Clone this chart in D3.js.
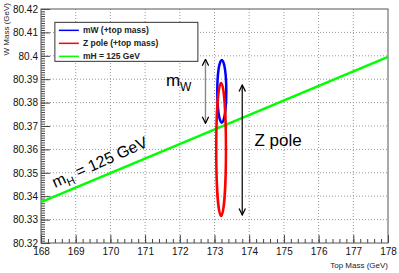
<!DOCTYPE html>
<html>
<head>
<meta charset="utf-8">
<script src="https://cdn.jsdelivr.net/npm/d3@7"></script>
<style>
  body { margin: 0; background: #fff; }
  svg { display: block; font-family: "Liberation Sans", Arial, sans-serif; }
</style>
</head>
<body>
<div class="board"></div>
<script>
var W = 399, H = 273
var margin = { top: 9, right: 11, bottom: 30, left: 41 }
var width = W - margin.left - margin.right,
    height = H - margin.top - margin.bottom

// data
var X_DOMAIN = [168, 178]
var Y_DOMAIN = [80.32, 80.42]
var X_TICKS = [168, 169, 170, 171, 172, 173, 174, 175, 176, 177, 178]
var Y_TICKS = [80.32, 80.33, 80.34, 80.35, 80.36, 80.37, 80.38, 80.39, 80.40, 80.41, 80.42]

// mH = 125 GeV line: top mass -> W mass
var higgsTop = [168, 178]
var higgsW = [80.3375, 80.3995]

// contours (center, half-widths) in top mass / W mass
var ellipseNames = ["mW (+top mass)", "Z pole (+top mass)"]
var ellipseTop = [173.21, 173.19]
var ellipseW = [80.3848, 80.3600]
var ellipseDTop = [0.13, 0.14]
var ellipseDW = [0.0134, 0.0284]
var ellipseColors = ["#0000ff", "#ff0000"]

var legendNames = ["mW (+top mass)", "Z pole (+top mass)", "mH = 125 GeV"]
var legendColors = ["#0000ff", "#ff0000", "#00ff00"]

// arrows: x (top mass), y from / to (W mass)
var arrowTop = [172.74, 173.8]
var arrowFrom = [80.3985, 80.3875]
var arrowTo = [80.3712, 80.3320]
var arrowColors = ["#888", "#222"]

var svg = d3.select(".board")
    .append("svg")
    .attr("width", W)
    .attr("height", H)

var defs = svg.append("defs")
defs.append("marker")
    .attr("id", "head")
    .attr("viewBox", "0 0 10 10")
    .attr("refX", 9)
    .attr("refY", 5)
    .attr("markerUnits", "userSpaceOnUse")
    .attr("markerWidth", 8)
    .attr("markerHeight", 8)
    .attr("orient", "auto-start-reverse")
    .append("path")
    .attr("d", "M1,1 L9,5 L1,9")
    .attr("fill", "none")
    .attr("stroke", "#000")
    .attr("stroke-width", 1.6)

var g = svg.append("g")
    .attr("transform", `translate(${margin.left},${margin.top})`)

var x = d3.scaleLinear().domain(X_DOMAIN).range([0, width])
var y = d3.scaleLinear().domain(Y_DOMAIN).range([height, 0])

// grid
g.selectAll(".gx")
    .data(X_TICKS.slice(1, -1))
    .enter()
    .append("line")
    .attr("x1", d => x(d)).attr("x2", d => x(d))
    .attr("y1", 0).attr("y2", height)
    .attr("stroke", "#999")
    .attr("stroke-dasharray", "1,2")

g.selectAll(".gy")
    .data(Y_TICKS.slice(1, -1))
    .enter()
    .append("line")
    .attr("x1", 0).attr("x2", width)
    .attr("y1", d => y(d)).attr("y2", d => y(d))
    .attr("stroke", "#999")
    .attr("stroke-dasharray", "1,2")

// minor ticks
var xMinor = d3.range(X_DOMAIN[0] * 5, X_DOMAIN[1] * 5 + 1).map(d => d / 5)
var yMinor = d3.range(Math.round(Y_DOMAIN[0] * 1000), Math.round(Y_DOMAIN[1] * 1000) + 1).map(d => d / 1000)

g.append("g")
    .attr("transform", `translate(0,${height})`)
    .call(d3.axisTop(x).tickValues(xMinor).tickSize(4).tickFormat(""))
    .call(a => a.select(".domain").remove())
    .call(a => a.selectAll("line").attr("stroke", "#444"))

g.append("g")
    .call(d3.axisRight(y).tickValues(yMinor).tickSize(4).tickFormat(""))
    .call(a => a.select(".domain").remove())
    .call(a => a.selectAll("line").attr("stroke", "#444"))

// major ticks + labels
g.append("g")
    .attr("transform", `translate(0,${height})`)
    .call(d3.axisBottom(x).tickValues(X_TICKS).tickSize(-8).tickPadding(5).tickFormat(d3.format("d")))
    .call(a => a.select(".domain").remove())
    .call(a => a.selectAll("line").attr("stroke", "#444"))
    .call(a => a.selectAll("text").attr("font-size", 10).attr("fill", "#111"))

g.append("g")
    .call(d3.axisLeft(y).tickValues(Y_TICKS).tickSize(-9).tickPadding(3).tickFormat(d => String(+d.toFixed(2))))
    .call(a => a.select(".domain").remove())
    .call(a => a.selectAll("line").attr("stroke", "#444"))
    .call(a => a.selectAll("text").attr("font-size", 10).attr("fill", "#111"))

// frame
g.append("rect")
    .attr("width", width)
    .attr("height", height)
    .attr("fill", "none")
    .attr("stroke", "#555")

// higgs line
g.append("line")
    .attr("x1", x(higgsTop[0])).attr("y1", y(higgsW[0]))
    .attr("x2", x(higgsTop[1])).attr("y2", y(higgsW[1]))
    .attr("stroke", "#00ff00")
    .attr("stroke-width", 2.5)

// ellipses
g.selectAll(".ell")
    .data(d3.range(ellipseNames.length))
    .enter()
    .append("ellipse")
    .attr("cx", i => x(ellipseTop[i]))
    .attr("cy", i => y(ellipseW[i]))
    .attr("rx", i => x(ellipseTop[i] + ellipseDTop[i]) - x(ellipseTop[i]))
    .attr("ry", i => y(ellipseW[i]) - y(ellipseW[i] + ellipseDW[i]))
    .attr("fill", "none")
    .attr("stroke", i => ellipseColors[i])
    .attr("stroke-width", 2.5)

// arrows
g.selectAll(".arrow")
    .data(d3.range(arrowTop.length))
    .enter()
    .append("line")
    .attr("x1", i => x(arrowTop[i])).attr("x2", i => x(arrowTop[i]))
    .attr("y1", i => y(arrowFrom[i])).attr("y2", i => y(arrowTo[i]))
    .attr("stroke", i => arrowColors[i])
    .attr("stroke-width", 1.4)
    .attr("marker-start", "url(#head)")
    .attr("marker-end", "url(#head)")

// annotations
var mw = g.append("text")
    .attr("x", x(171.6))
    .attr("y", y(80.3870))
    .attr("font-size", 17)
mw.append("tspan").text("m")
mw.append("tspan").attr("dy", 5).attr("font-size", 12).text("W")

g.append("text")
    .attr("x", x(174.15))
    .attr("y", y(80.3615))
    .attr("font-size", 17)
    .text("Z pole")

var mh = g.append("text")
    .attr("transform", `translate(${x(168.4)},${y(80.3435)}) rotate(-24)`)
    .attr("font-size", 16)
mh.append("tspan").text("m")
mh.append("tspan").attr("dy", 4).attr("font-size", 11).text("H")
mh.append("tspan").attr("dy", -4).text(" = 125 GeV")

// legend
var lg = g.append("g")
    .attr("transform", `translate(${x(168.4)},${y(80.4143)})`)
lg.append("rect")
    .attr("width", 143)
    .attr("height", 39)
    .attr("fill", "#fff")
    .attr("stroke", "#333")

lg.selectAll(".lline")
    .data(legendColors)
    .enter()
    .append("line")
    .attr("x1", 4).attr("x2", 24)
    .attr("y1", (d, i) => 8 + i * 13).attr("y2", (d, i) => 8 + i * 13)
    .attr("stroke", d => d)
    .attr("stroke-width", 1.5)

lg.selectAll(".ltext")
    .data(legendNames)
    .enter()
    .append("text")
    .attr("x", 28)
    .attr("y", (d, i) => 11 + i * 13)
    .attr("font-size", 8.5)
    .attr("font-weight", "bold")
    .attr("fill", "#222")
    .text(d => d)

// axis titles
svg.append("text")
    .attr("x", margin.left + width)
    .attr("y", 268)
    .attr("text-anchor", "end")
    .attr("font-size", 8)
    .attr("fill", "#222")
    .text("Top Mass (GeV)")

svg.append("text")
    .attr("transform", "translate(9,3) rotate(-90)")
    .attr("text-anchor", "end")
    .attr("font-size", 8)
    .attr("fill", "#222")
    .text("W Mass (GeV)")
</script>
</body>
</html>
